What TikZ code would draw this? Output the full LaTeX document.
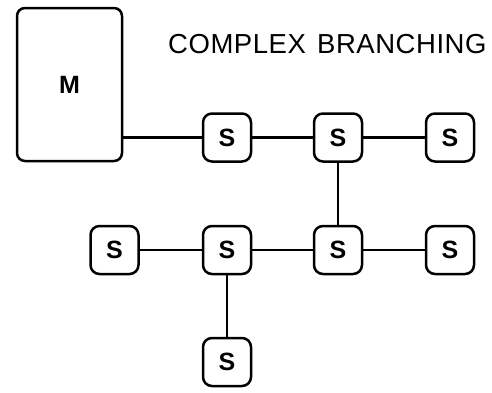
\documentclass[tikz,border=0pt]{standalone}
\usepackage{fontspec}
\setmainfont{Liberation Sans}
\begin{document}
\begin{tikzpicture}[x=1pt,y=-1pt,
  sbox/.style={draw,line width=2.5pt,rounded corners=9pt,minimum width=48pt,minimum height=48pt,inner sep=0pt,font=\fontsize{25}{25}\selectfont\bfseries},
  mbox/.style={draw,line width=2.5pt,rounded corners=8pt,minimum width=105pt,minimum height=153pt,inner sep=0pt,font=\fontsize{25}{25}\selectfont\bfseries},
  wire/.style={line width=2.5pt}]
\useasboundingbox (0,0) rectangle (492,392);
\node[mbox] (M) at (69.5,84.5) {M};
\node[anchor=base west,inner sep=0pt,font=\fontsize{27.5}{28}\selectfont\addfontfeature{LetterSpace=2}] (T) at (168,53) {COMPLEX\hspace{3pt} BRANCHING};
\node[sbox] (S1) at (227,137.5) {S};
\node[sbox] (S2) at (338,137.5) {S};
\node[sbox] (S3) at (450,137.5) {S};
\node[sbox] (B1) at (114.5,250) {S};
\node[sbox] (B2) at (227,250) {S};
\node[sbox] (B3) at (338,250) {S};
\node[sbox] (B4) at (450,250) {S};
\node[sbox] (B5) at (227,362) {S};
\draw[wire] (M.east |- S1.west) -- (S1.west);
\draw[wire] (S1) -- (S2);
\draw[wire] (S2) -- (S3);
\draw[wire] (S2) -- (B3);
\draw[wire] (B1) -- (B2);
\draw[wire] (B2) -- (B3);
\draw[wire] (B3) -- (B4);
\draw[wire] (B2) -- (B5);
\end{tikzpicture}
\end{document}
